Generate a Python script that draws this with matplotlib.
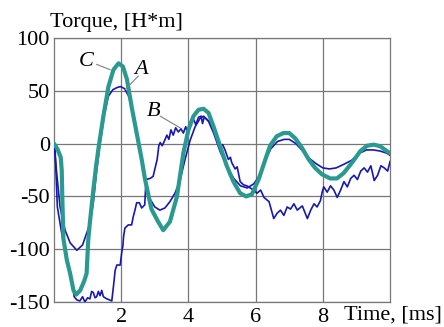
import matplotlib
matplotlib.use('Agg')
import matplotlib.pyplot as plt

plt.rcParams['font.family'] = ['Liberation Serif', 'DejaVu Serif']
plt.rcParams['axes.unicode_minus'] = False

# curve C (teal, thick)
c_t = [0, 0.1, 0.2, 0.23, 0.25, 0.28, 0.38, 0.48, 0.58, 0.66, 0.78, 0.9, 0.97,
       1.02, 1.07, 1.17, 1.25, 1.33, 1.47, 1.62, 1.77, 1.92, 2.05, 2.17, 2.31,
       2.46, 2.61, 2.71, 2.9, 3.1, 3.25, 3.45, 3.66, 3.85, 4.0, 4.15, 4.3, 4.45,
       4.6, 4.75, 4.94, 5.14, 5.34, 5.54, 5.72, 5.89, 6.09, 6.29, 6.43, 6.63,
       6.83, 7.0, 7.18, 7.38, 7.58, 7.77, 7.97, 8.22, 8.42, 8.62, 8.87, 9.12,
       9.32, 9.52, 9.71, 9.9, 10.0]
c_v = [0, -5, -13, -25, -55, -90, -110, -123, -139, -143, -139, -130, -123,
       -91, -74, -44, -22, -3, 26, 54, 70, 76, 73, 61, 35,
       10, -15, -34, -62, -74, -82, -74, -50, -9, 13, 26, 32, 33,
       29, 16, -2, -21, -36, -47, -50, -48, -34, -15, -2, 7,
       10, 10, 5, -4, -15, -23, -29, -33, -33, -28, -18, -7,
       -2, -1, -2.5, -7, -9]

# curve A (blue, smooth)
a_t = [0, 0.08, 0.18, 0.33, 0.48, 0.68, 0.85, 0.97, 1.07, 1.17, 1.27, 1.37,
       1.5, 1.62, 1.75, 1.87, 1.98, 2.1, 2.22, 2.33, 2.45, 2.55, 2.7, 2.85,
       3.0, 3.15, 3.3, 3.45, 3.6, 3.75, 3.9, 4.05, 4.2, 4.35, 4.45, 4.6, 4.75,
       4.95, 5.15, 5.35, 5.55, 5.75, 5.95, 6.1, 6.3, 6.45, 6.65, 6.85, 7.0,
       7.2, 7.4, 7.6, 7.8, 8.0, 8.2, 8.4, 8.6, 8.85, 9.1, 9.3, 9.5, 9.7, 9.9, 10.0]
a_v = [0, -28, -60, -82, -94, -101, -96, -85, -76, -56, -25, 0,
       28, 45, 51, 53, 54, 52, 45, 33, 12, -5, -33, -52,
       -60, -63, -61, -55, -47, -35, -15, 3, 16, 24, 26, 21, 10,
       -8, -22, -33, -40, -42, -38, -31, -15, -5, 2, 4, 4,
       0, -7, -14, -19, -23, -24, -23, -20, -16, -9, -6, -6, -7, -9, -11]

# curve B (blue, noisy)
b_t = [0, 0.03, 0.06, 0.1, 0.23, 0.38, 0.48, 0.56, 0.6, 0.68, 0.77, 0.85,
       0.92, 1.0, 1.07, 1.12, 1.17, 1.22, 1.27, 1.32, 1.37, 1.42, 1.47, 1.57,
       1.65, 1.72, 1.77, 1.82, 1.87, 1.97, 2.02, 2.05, 2.07, 2.11, 2.21, 2.31,
       2.36, 2.41, 2.46, 2.54, 2.61, 2.7, 2.74, 2.86, 2.95, 3.07, 3.12, 3.16,
       3.22, 3.28, 3.36, 3.42, 3.48, 3.55, 3.62, 3.7, 3.78, 3.85, 3.92, 3.98,
       4.05, 4.15, 4.22, 4.3, 4.38, 4.42, 4.47, 4.55, 4.65, 4.72, 4.78, 4.85,
       4.95, 5.02, 5.09, 5.19, 5.25, 5.29, 5.39, 5.45, 5.49, 5.54, 5.64, 5.74,
       5.84, 5.94, 6.04, 6.15, 6.25, 6.4, 6.54, 6.64, 6.74, 6.84, 6.94, 7.04,
       7.14, 7.24, 7.39, 7.54, 7.64, 7.74, 7.83, 7.93, 7.98, 8.03, 8.13, 8.23,
       8.33, 8.43, 8.53, 8.63, 8.73, 8.83, 8.93, 9.03, 9.13, 9.23, 9.33, 9.43,
       9.53, 9.63, 9.73, 9.83, 9.93, 10.0]
b_v = [0, -3, -28, -60, -85, -110, -123, -135, -145, -148, -149, -145,
       -150, -146, -147, -140, -141, -146, -145, -140, -144, -139, -145, -147,
       -148, -149, -135, -120, -115, -115, -102, -97, -88, -80, -77, -77,
       -69, -63, -56, -56, -61, -58, -34, -33, -31, -15, -2, 1,
       -2, 2, 8, 4, 13, 8, 15, 11, 14, 10, 16, 10,
       20, 23, 18, 25, 26, 19, 25, 23, 20, 14, 12, 4,
       -2, -1, -6, -15, -13, -18, -24, -22, -28, -36, -39, -40,
       -42, -44, -47, -44, -51, -55, -71, -66, -63, -68, -60, -62,
       -57, -63, -59, -71, -63, -57, -60, -54, -46, -41, -46, -40,
       -44, -51, -44, -36, -41, -33, -30, -34, -26, -23, -27, -21,
       -35, -30, -21, -23, -26, -17]

y_ticks = [-150, -100, -50, 0, 50, 100]
x_ticks = [2, 4, 6, 8]

blue = '#1818b0'
teal = '#2a9a90'

fig = plt.figure(figsize=(4.44, 3.27), dpi=100)
ax = fig.add_axes([54/444, 25/327, 336/444, 264/327])

ax.plot(a_t, a_v, color=blue, lw=1.2, zorder=3)
ax.plot(b_t, b_v, color=blue, lw=1.2, zorder=3)
ax.plot(c_t, c_v, color=teal, lw=3.0, zorder=4, solid_capstyle='round')

# labels with leader lines
ax.plot([1.27, 1.67], [75, 70], color='gray', lw=0.8, zorder=5)
ax.plot([2.51, 2.11], [64, 51], color='gray', lw=0.8, zorder=5)
ax.plot([3.16, 3.75], [26, 15], color='gray', lw=0.8, zorder=5)
ax.text(0.97, 78, 'C', style='italic', fontsize=16, ha='center', va='center')
ax.text(2.6, 70, 'A', style='italic', fontsize=16, ha='center', va='center')
ax.text(2.96, 30, 'B', style='italic', fontsize=16, ha='center', va='center')

ax.set_xlim(0, 10)
ax.set_ylim(-150, 100)
ax.set_xticks(x_ticks)
ax.set_yticks(y_ticks)
ax.tick_params(length=0, labelsize=16, pad=3)
ax.tick_params(axis='x', pad=4)
ax.grid(True, color='#777777', lw=0.9)
for s in ax.spines.values():
    s.set_color('#777777')
    s.set_linewidth(0.9)

ax.text(8.63, -0.05, 'Time, [ms]', transform=ax.get_xaxis_transform(),
        fontsize=16, ha='left', va='center')
fig.text(50/444, 1 - 22/327, 'Torque, [H*m]', fontsize=16, ha='left', va='center')

fig.savefig('out.png', dpi=100)
